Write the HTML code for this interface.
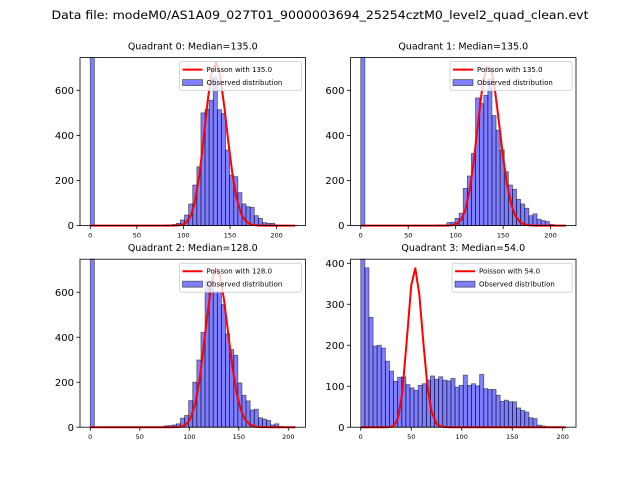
<!DOCTYPE html>
<html><head><meta charset="utf-8"><style>
html,body{margin:0;padding:0;background:#fff;}
svg{display:block;font-family:"DejaVu Sans","Liberation Sans",sans-serif;}
</style></head><body>
<svg id="fig" width="640" height="480" viewBox="0 0 640 480" xmlns="http://www.w3.org/2000/svg">
<rect width="640" height="480" fill="#fff"/>
<text x="320" y="19" text-anchor="middle" font-size="11.5" textLength="537" lengthAdjust="spacingAndGlyphs">Data file: modeM0/AS1A09_027T01_9000003694_25254cztM0_level2_quad_clean.evt</text>
</svg>
<script>
// ---- data ----
const titles = ["Quadrant 0: Median=135.0","Quadrant 1: Median=135.0","Quadrant 2: Median=128.0","Quadrant 3: Median=54.0"];
const medians = [135, 135, 128, 54];
const binWidths = [4.4, 4.32, 4.14, 4.06];
const curvePeaks = [725, 715, 705, 388];
const q0Counts = [5000,0,0,0,0,0,0,0,0,0,0,0,0,0,0,0,0,0,3,3,5,10,25,47,96,180,261,500,516,556,659,514,497,335,224,217,146,96,84,81,44,32,13,10,10,3,0,0,0,0];
const q1Counts = [5000,0,0,0,0,0,0,0,0,0,0,0,0,0,0,0,0,0,3,3,3,13,15,32,55,165,220,320,566,541,578,650,488,423,335,239,180,161,116,96,77,44,52,28,22,18,5,2,0,1];
const q2Counts = [5000,0,0,0,0,0,0,0,0,0,0,0,0,0,0,0,0,0,6,7,10,15,40,52,118,200,299,422,650,618,603,600,545,415,345,320,197,142,117,76,80,42,36,30,10,15,3,0,0,1];
const q3Counts = [1000,389,268,198,200,193,161,137,112,122,123,104,96,90,102,106,115,125,117,123,115,113,119,98,102,127,102,106,101,129,94,92,92,78,63,66,62,62,47,41,37,23,21,5,3,1,0,0,0,0];
const allCounts = [q0Counts, q1Counts, q2Counts, q3Counts];
const yMaxes = [745, 745, 747, 410];
const yTickSets = [[0,200,400,600],[0,200,400,600],[0,200,400,600],[0,100,200,300,400]];
const xTicks = [0,50,100,150,200];

const NS = "http://www.w3.org/2000/svg";
const svg = document.getElementById("fig");
function mk(tag, attrs, parent){const e=document.createElementNS(NS,tag);for(const k in attrs)e.setAttribute(k,attrs[k]);(parent||svg).appendChild(e);return e;}
function lnGamma(z){
  if(z<7){let p=1;while(z<7){p*=z;z+=1;}return lnGamma(z)-Math.log(p);}
  return (z-0.5)*Math.log(z)-z+0.5*Math.log(2*Math.PI)+1/(12*z)-1/(360*z*z*z);
}
const boxes = [[80,57.6],[350.5,57.6],[80,259.2],[350.5,259.2]];
const W=225.5, H=168;
for(let q=0;q<4;q++){
  const [ax,ay]=boxes[q];
  const counts=allCounts[q], bw=binWidths[q];
  const dmax=bw*counts.length, pad=dmax*0.05;
  const x0=-pad, x1=dmax+pad, yMax=yMaxes[q];
  const X=v=>ax+(v-x0)/(x1-x0)*W;
  const Y=v=>ay+H-Math.min(v,yMax)/yMax*H;
  const g=mk("g",{});
  
  
  const bars=mk("g",{},g);
  counts.forEach((c,i)=>{
    if(c<=0)return;
    const r=mk("rect",{x:X(i*bw),y:Y(c),width:X((i+1)*bw)-X(i*bw),height:Y(0)-Y(c),fill:"#0000ff","fill-opacity":0.5,stroke:"#000","stroke-opacity":0.55,"stroke-width":0.8},bars);
    
    
  });
  const mu=medians[q], kp=Math.round(mu);
  const peakPmf=Math.exp(kp*Math.log(mu)-mu-lnGamma(kp+1));
  const scale=curvePeaks[q]/peakPmf;
  let pts=[];
  for(let j=0;j<50;j++){
    const k=Math.round(j*dmax/49);
    const p=Math.exp(k*Math.log(mu)-mu-lnGamma(k+1));
    pts.push(X(k).toFixed(2)+","+Y(p*scale).toFixed(2));
  }
  const pl=mk("polyline",{points:pts.join(" "),fill:"none",stroke:"#ff0000","stroke-width":2,"stroke-linejoin":"round"},g);
  
  
  const fr=mk("rect",{x:ax,y:ay,width:W,height:H,fill:"none",stroke:"#000","stroke-width":0.8},g);
  
  
  xTicks.forEach(t=>{
    const x=X(t);
    mk("line",{x1:x,x2:x,y1:ay+H,y2:ay+H+3.5,stroke:"#000","stroke-width":0.8},g);
    const tx=mk("text",{x:x,y:ay+H+12,"font-size":6.5,"text-anchor":"middle"},g);
    tx.textContent=t;
    
    
  });
  yTickSets[q].forEach(t=>{
    const y=Y(t);
    mk("line",{x1:ax,x2:ax-3.5,y1:y,y2:y,stroke:"#000","stroke-width":0.8},g);
    const tx=mk("text",{x:ax-6,y:y+3.6,"font-size":10,"text-anchor":"end"},g);
    tx.textContent=t;
    
    
  });
  const ti=mk("text",{x:ax+W/2,y:ay-8,"font-size":9.5,"text-anchor":"middle"},g);
  ti.textContent=titles[q];
  
  
  const lw=(q===3)?120:122, lx=ax+W-4-lw, ly=ay+4;
  const lg=mk("g",{},g);
  
  
  mk("rect",{x:lx,y:ly,width:lw,height:29,fill:"#fff","fill-opacity":0.8,stroke:"#ccc","stroke-width":0.8,rx:2},lg);
  mk("line",{x1:lx+3,x2:lx+23,y1:ly+8,y2:ly+8,stroke:"#ff0000","stroke-width":2},lg);
  const t1=mk("text",{x:lx+27,y:ly+10.5,"font-size":7},lg); t1.textContent="Poisson with "+medians[q].toFixed(1);
  mk("rect",{x:lx+3,y:ly+18,width:20,height:6,fill:"#0000ff","fill-opacity":0.5,stroke:"#000","stroke-opacity":0.55,"stroke-width":0.8},lg);
  const t2=mk("text",{x:lx+27,y:ly+23.5,"font-size":7},lg); t2.textContent="Observed distribution";
}
</script>
</body></html>
